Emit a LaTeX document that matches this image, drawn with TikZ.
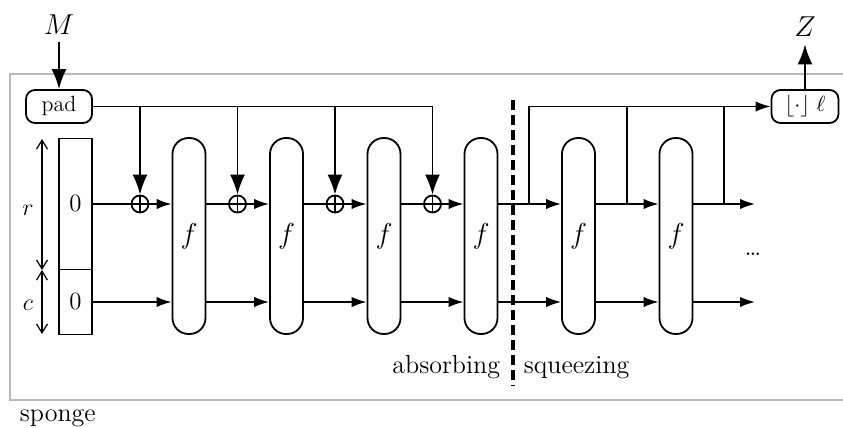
\documentclass[tikz,border=0pt]{standalone}
\usetikzlibrary{arrows.meta}
\begin{document}
\begin{tikzpicture}[x=0.5pt,y=-0.5pt, line width=0.9pt,
  every node/.style={font=\fontsize{12.4}{14}\selectfont},
  htip/.style={-{Latex[length=7.5pt,width=5.2pt]}},
  vtip/.style={-{Latex[length=10pt,width=7.5pt]}},
  dimarrow/.style={{Straight Barb[length=4.5pt,width=5.5pt]}-{Straight Barb[length=4.5pt,width=5.5pt]}, line width=0.6pt},
  perm/.style={draw, rounded corners=8pt, minimum width=16.5pt, minimum height=98pt, inner sep=0pt, font=\fontsize{15.5}{17}\selectfont},
  cell/.style={draw, minimum width=16.5pt, inner sep=0pt},
  io/.style={draw, rounded corners=4.5pt, minimum height=16.5pt, inner sep=0pt},
  xor/.style={circle, draw, minimum size=8.5pt, inner sep=0pt,
    path picture={\draw[line width=0.6pt]
      (path picture bounding box.north) -- (path picture bounding box.south)
      (path picture bounding box.west) -- (path picture bounding box.east);}},
  phase/.style={font=\fontsize{13}{15}\selectfont, inner sep=0pt}
]
\useasboundingbox (0,0) rectangle (843,428);

% sponge frame (open to the right)
\draw[gray!55, line width=0.6pt] (843,74) -| (10,400) -- (843,400);

% input / output blocks
\node[io, minimum width=33pt, font=\fontsize{11}{13}\selectfont] (pad) at (59,106.5) {pad};
\node[io, minimum width=33.5pt, font=\fontsize{11}{13}\selectfont] (out) at (805,106.5) {$\lfloor\cdot\rfloor\;\ell$};
\node[font=\fontsize{13.5}{15}\selectfont] (M) at (59,25) {$M$};
\node[font=\fontsize{13.5}{15}\selectfont] (Z) at (805,27) {$Z$};
\draw[vtip] (M) -- (pad);
\draw[vtip] (out) -- (Z);

% initial state
\node[cell, minimum height=65.5pt] (sr) at (75.5,204) {0};
\node[cell, minimum height=32.5pt] (sc) at (75.5,302) {0};
\node (r) at (28,210) {$r$};
\node (c) at (28,305) {$c$};
\coordinate (ra) at (42,139);
\coordinate (rb) at (42,270);
\coordinate (rc) at (42,334);
\draw[dimarrow] (ra) -- (rb);
\draw[dimarrow] (rb) -- (rc);

% permutations
\foreach \i/\x in {1/189,2/286.5,3/384,4/481,5/578.5,6/676}
  \node[perm] (f\i) at (\x,236) {$f$};

% xor points
\foreach \i/\x in {1/140,2/237.5,3/335,4/432.5}
  \node[xor] (x\i) at (\x,204) {};

% absorbing phase
\draw (sr) -- (x1);
\draw[htip] (x1) -- (x1 -| f1.west);
\draw[htip] (sc) -- (sc -| f1.west);
\foreach \i/\j in {1/2,2/3,3/4} {
  \draw (f\i.east |- x\j) -- (x\j);
  \draw[htip] (x\j) -- (x\j -| f\j.west);
  \draw[htip] (f\i.east |- sc) -- (f\j.west |- sc);
}
\draw[vtip] (pad) -| (x4);
\foreach \i in {1,2,3}
  \draw[vtip] (x\i |- pad) -- (x\i);

% squeezing phase
\foreach \i/\j in {4/5,5/6} {
  \draw[htip] (f\i.east |- sr) -- (f\j.west |- sr);
  \draw[htip] (f\i.east |- sc) -- (f\j.west |- sc);
}
\coordinate (e1) at (755,204);
\coordinate (e2) at (755,302);
\draw[htip] (f6.east |- sr) -- (e1);
\draw[htip] (f6.east |- sc) -- (e2);
\coordinate (s1) at (529,204);
\coordinate (s2) at (627,204);
\coordinate (s3) at (724,204);
\draw[htip] (s1) |- (out);
\draw (s2) -- (s2 |- out);
\draw (s3) -- (s3 |- out);
\node[font=\fontsize{13}{14}\selectfont] (dots) at (753,254) {\dots};

% phase separator
\coordinate (d1) at (513,100);
\coordinate (d2) at (513,386);
\draw[line width=1.6pt, dash pattern=on 5pt off 2.5pt] (d1) -- (d2);
\node[phase, anchor=base east] (ab) at (501,373) {absorbing};
\node[phase, anchor=base west] (sq) at (523,373) {squeezing};
\node[phase, anchor=base west] (sp) at (19,422) {sponge};
\end{tikzpicture}
\end{document}
